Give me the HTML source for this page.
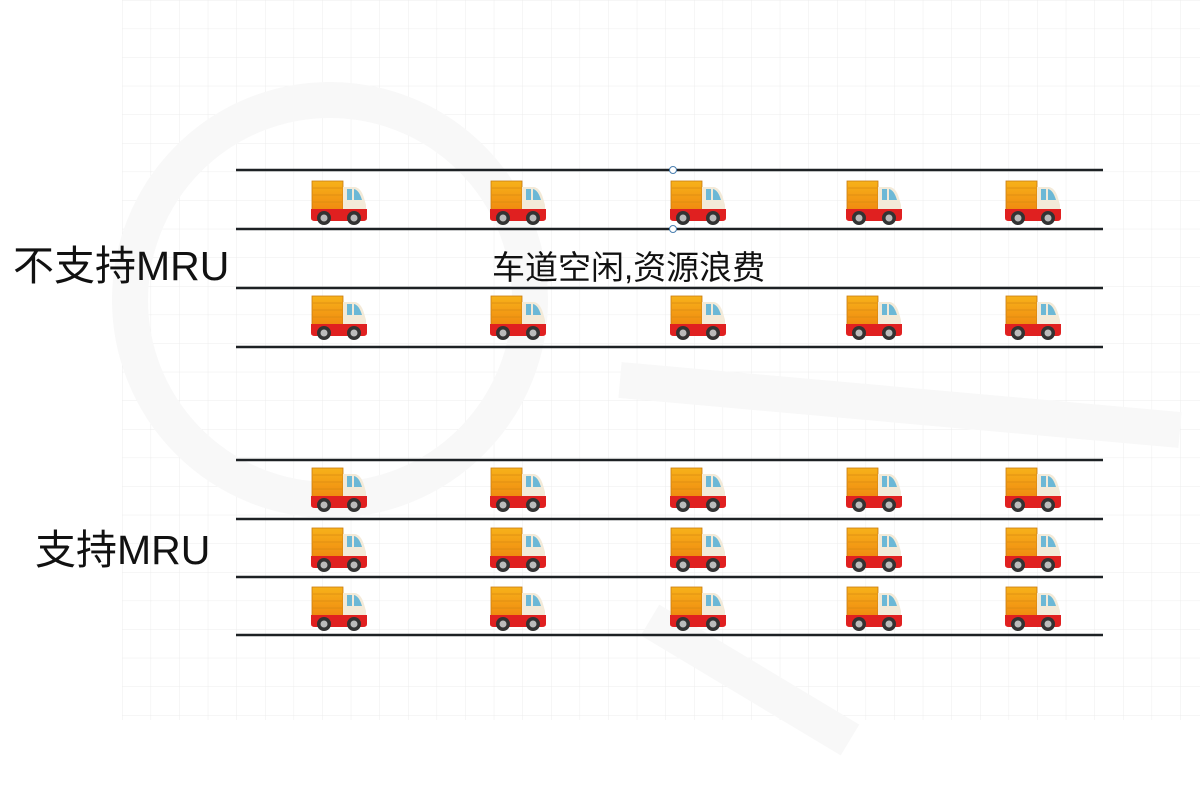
<!DOCTYPE html>
<html><head><meta charset="utf-8"><style>
html,body{margin:0;padding:0;background:#fff;}
body{width:1200px;height:800px;position:relative;overflow:hidden;font-family:"Liberation Sans","Noto Sans CJK SC",sans-serif;}
.t{position:absolute;color:#111;white-space:nowrap;line-height:1;}
</style></head><body>
<svg width="1200" height="800" style="position:absolute;left:0;top:0">
<defs>
<pattern id="g" x="122" y="0" width="28.6" height="28.6" patternUnits="userSpaceOnUse">
<path d="M0 0V28.6M0 0H28.6" stroke="#ececec" stroke-width="1" fill="none"/>
</pattern>
<linearGradient id="box" x1="0" y1="0" x2="0" y2="1"><stop offset="0" stop-color="#f7b21a"/><stop offset="1" stop-color="#f08a10"/></linearGradient>
<symbol id="truck" viewBox="0 0 57 46">
<rect x="1" y="1" width="31" height="29" fill="url(#box)" stroke="#c97a10" stroke-width="0.8"/>
<path d="M2 8H31M2 15H31M2 22H31" stroke="#d98a12" stroke-width="0.8"/>
<path d="M32 7H44Q50 8 53 18L55 25V31H32Z" fill="#f3ead8"/>
<path d="M36 9H41V20H36Z" fill="#6cb8d6"/>
<path d="M43 9Q48 10 51 20H43Z" fill="#6cb8d6"/>
<path d="M0 29H56V38Q56 41 52 41H4Q0 41 0 38Z" fill="#e02020"/>
<circle cx="13" cy="38" r="7" fill="#333"/><circle cx="13" cy="38" r="3.5" fill="#bbb"/>
<circle cx="43" cy="38" r="7" fill="#333"/><circle cx="43" cy="38" r="3.5" fill="#bbb"/>
</symbol>
</defs>
<rect x="122" y="0" width="1078" height="720" fill="url(#g)"/>
<g stroke="#f8f8f8" stroke-width="36" fill="none">
<circle cx="330" cy="300" r="200"/>
<path d="M620 380L1180 430M650 620L850 740"/>
</g>
<g stroke="#1d2124" stroke-width="2.5">
<line x1="236" y1="170" x2="1103" y2="170"/>
<line x1="236" y1="229" x2="1103" y2="229"/>
<line x1="236" y1="288" x2="1103" y2="288"/>
<line x1="236" y1="347" x2="1103" y2="347"/>
<line x1="236" y1="460" x2="1103" y2="460"/>
<line x1="236" y1="519" x2="1103" y2="519"/>
<line x1="236" y1="577" x2="1103" y2="577"/>
<line x1="236" y1="635" x2="1103" y2="635"/>
</g>
<circle cx="673" cy="170" r="3.5" fill="#fff" stroke="#4a7fb0" stroke-width="1"/>
<circle cx="673" cy="229" r="3.5" fill="#fff" stroke="#4a7fb0" stroke-width="1"/>
<g>
<use href="#truck" x="311" y="180" width="57" height="46"/><use href="#truck" x="490" y="180" width="57" height="46"/><use href="#truck" x="670" y="180" width="57" height="46"/><use href="#truck" x="846" y="180" width="57" height="46"/><use href="#truck" x="1005" y="180" width="57" height="46"/>
<use href="#truck" x="311" y="295" width="57" height="46"/><use href="#truck" x="490" y="295" width="57" height="46"/><use href="#truck" x="670" y="295" width="57" height="46"/><use href="#truck" x="846" y="295" width="57" height="46"/><use href="#truck" x="1005" y="295" width="57" height="46"/>
<use href="#truck" x="311" y="467" width="57" height="46"/><use href="#truck" x="490" y="467" width="57" height="46"/><use href="#truck" x="670" y="467" width="57" height="46"/><use href="#truck" x="846" y="467" width="57" height="46"/><use href="#truck" x="1005" y="467" width="57" height="46"/>
<use href="#truck" x="311" y="527" width="57" height="46"/><use href="#truck" x="490" y="527" width="57" height="46"/><use href="#truck" x="670" y="527" width="57" height="46"/><use href="#truck" x="846" y="527" width="57" height="46"/><use href="#truck" x="1005" y="527" width="57" height="46"/>
<use href="#truck" x="311" y="586" width="57" height="46"/><use href="#truck" x="490" y="586" width="57" height="46"/><use href="#truck" x="670" y="586" width="57" height="46"/><use href="#truck" x="846" y="586" width="57" height="46"/><use href="#truck" x="1005" y="586" width="57" height="46"/>
</g>
</svg>
<div class="t" style="left:13px;top:246px;font-size:41px;">不支持MRU</div>
<div class="t" style="left:35px;top:530px;font-size:41px;">支持MRU</div>
<div class="t" style="left:492px;top:251px;font-size:33px;">车道空闲,资源浪费</div>
</body></html>
